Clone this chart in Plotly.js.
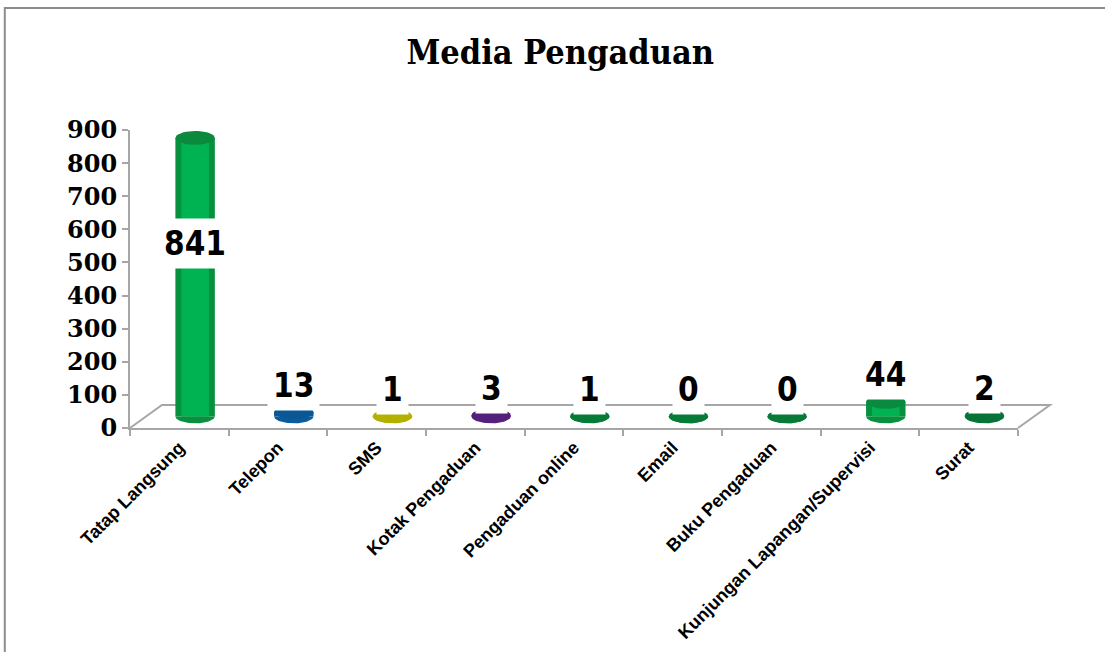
<!DOCTYPE html>
<html><head><meta charset="utf-8">
<script src="https://cdn.plot.ly/plotly-3.0.1.min.js"></script>
<style>html,body{margin:0;padding:0;background:#fff;}#chart{width:1105px;height:652px;}</style>
</head><body><div id="chart"></div>
<script>
const categories = ["Tatap Langsung","Telepon","SMS","Kotak Pengaduan","Pengaduan online","Email","Buku Pengaduan","Kunjungan Lapangan/Supervisi","Surat"];
const values = [841, 13, 1, 3, 1, 0, 0, 44, 2];
const yTicks = [0, 100, 200, 300, 400, 500, 600, 700, 800, 900];
const chartTitle = "Media Pengaduan";

const barColors  = ["#00b352","#1377c8","#d0cc10","#7a3aa8","#00a04c","#00a04c","#00a04c","#00b352","#00954a"];
const edgeColors = ["#07913f","#0a5c9c","#aaa600","#5a2482","#07803c","#07803c","#07803c","#07913f","#07783a"];
const topColors  = ["#0b8a3e","#0b5796","#b4b000","#55207c","#087a38","#087a38","#087a38","#0a8a3e","#077338"];

const depth = 35;      // 3D projection offset of the floor (axis units)
const shiftX = 0.16;   // 3D projection offset of the floor (category units)
const rx = 0.2, ry = 21;
const idx = categories.map((_, i) => i);
const barX = idx.map(i => i + shiftX);

const traces = [
  {type:'bar', x: barX, y: values, base: depth, width: 0.4, marker:{color: edgeColors}, hoverinfo:'skip'},
  {type:'bar', x: barX, y: values, base: depth, width: 0.28, marker:{color: barColors}, hoverinfo:'skip'}
];

function ellipse(cx, cy, half) {
  const xs = [], ys = [];
  const n = 40;
  for (let k = 0; k <= n; k++) {
    const a = half ? Math.PI + Math.PI * k / n : 2 * Math.PI * k / n;
    xs.push(cx + rx * Math.cos(a));
    ys.push(cy + ry * Math.sin(a));
  }
  return {xs, ys};
}
values.forEach((v, i) => {
  const b = ellipse(barX[i], depth, true);
  traces.push({type:'scatter', mode:'lines', x:b.xs, y:b.ys, fill:'toself', fillcolor: edgeColors[i], line:{width:0}, hoverinfo:'skip', cliponaxis:false});
  const t = ellipse(barX[i], depth + v, false);
  traces.push({type:'scatter', mode:'lines', x:t.xs, y:t.ys, fill:'toself', fillcolor: topColors[i], line:{width:0}, hoverinfo:'skip', cliponaxis:false});
});

const labelFont = {family:'DejaVu Sans Condensed, Liberation Sans Narrow, Liberation Sans', size:33, color:'#000', weight:'bold', stretch:'condensed'};
const annotations = values.map((v, i) => {
  const tall = v > 300;
  return {
    x: barX[i], y: tall ? depth + v * 0.62 : depth + v, xref:'x', yref:'y',
    text: String(v), showarrow:false, yanchor:'middle', yshift: tall ? 0 : 27,
    bgcolor:'#ffffff', borderpad: 5, font: labelFont
  };
});

const layout = {
  width:1105, height:652,
  margin:{l:130, r:87, t:130, b:224},
  paper_bgcolor:'#fff', plot_bgcolor:'rgba(0,0,0,0)',
  showlegend:false, barmode:'overlay',
  title:{text:'<b>' + chartTitle + '</b>', font:{family:'DejaVu Serif Condensed, DejaVu Serif', size:34, color:'#000', stretch:'condensed'}, x:0.507, xanchor:'center', y:0.92, yanchor:'middle'},
  xaxis:{range:[-0.5, 8.5], tickmode:'array', tickvals: idx, ticktext: categories, ticks:'', tickangle:-45,
    tickfont:{family:'Liberation Sans, Arial', size:18, color:'#000', weight:'bold'},
    showline:true, linecolor:'#a6a6a6', linewidth:2, showgrid:false, zeroline:false, fixedrange:true,
    minor:{ticks:'outside', tick0:-0.5, dtick:1, ticklen:6, tickcolor:'#a6a6a6', tickwidth:2, showgrid:false}},
  yaxis:{range:[0, 900], tickmode:'array', tickvals: yTicks, ticks:'outside', ticklen:6, tickcolor:'#a6a6a6', tickwidth:2,
    tickfont:{family:'DejaVu Serif', size:24, color:'#000', weight:'bold'},
    showline:true, linecolor:'#a6a6a6', linewidth:2, showgrid:false, zeroline:false, fixedrange:true},
  annotations: annotations,
  shapes:[
    {type:'path', xref:'paper', yref:'paper', layer:'below', path:'M 0,0 L 0.036,0.0772 L 1.036,0.0772 L 1,0', line:{color:'#a6a6a6', width:2}},
    {type:'path', xref:'paper', yref:'paper', layer:'below', path:'M -0.141,-0.76 L -0.141,1.4094 L 1.1,1.4094', line:{color:'#8c8c8c', width:2}}
  ]
};
Plotly.newPlot('chart', traces, layout, {displayModeBar:false, staticPlot:true});
</script></body></html>
